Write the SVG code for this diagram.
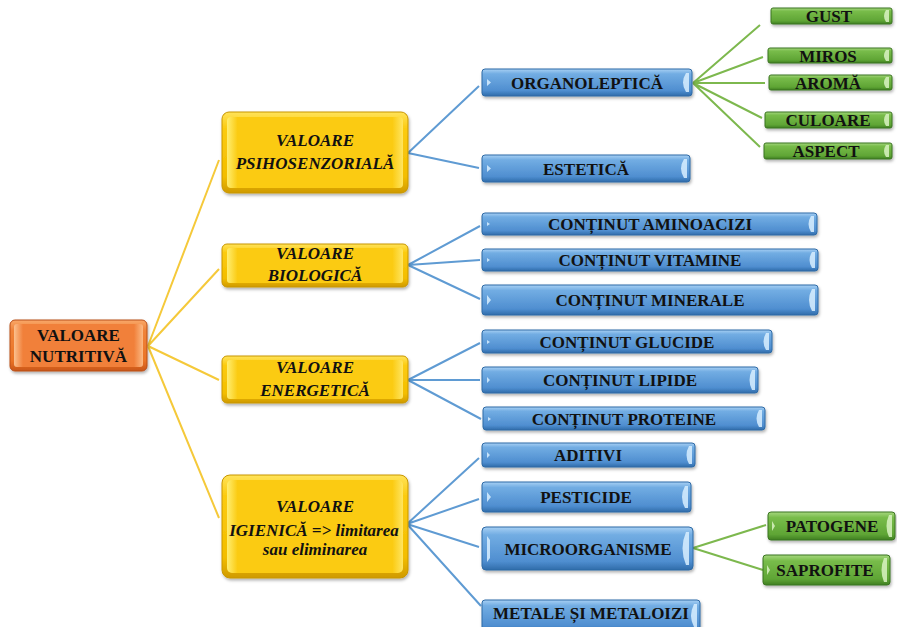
<svg xmlns="http://www.w3.org/2000/svg" width="897" height="627" viewBox="0 0 897 627">
<defs>
<linearGradient id="gBlue" x1="0" y1="0" x2="0" y2="1">
<stop offset="0" stop-color="#A8D0F4"/><stop offset="0.18" stop-color="#72ADE3"/><stop offset="0.8" stop-color="#4F8ED0"/><stop offset="1" stop-color="#2F6CAA"/>
</linearGradient>
<linearGradient id="gYel" x1="0" y1="0" x2="0" y2="1">
<stop offset="0" stop-color="#FFE35A"/><stop offset="0.2" stop-color="#FCCB10"/><stop offset="0.8" stop-color="#F3BD00"/><stop offset="1" stop-color="#CF9A00"/>
</linearGradient>
<linearGradient id="gYelIn" x1="0" y1="0" x2="1" y2="0">
<stop offset="0" stop-color="#FFEE70"/><stop offset="0.06" stop-color="#FBCB12"/><stop offset="0.94" stop-color="#FBCB12"/><stop offset="1" stop-color="#FFE560"/>
</linearGradient>
<linearGradient id="gOr" x1="0" y1="0" x2="0" y2="1">
<stop offset="0" stop-color="#F9A869"/><stop offset="0.2" stop-color="#F0833A"/><stop offset="0.8" stop-color="#EA7325"/><stop offset="1" stop-color="#C9561A"/>
</linearGradient>
<linearGradient id="gOrIn" x1="0" y1="0" x2="1" y2="0">
<stop offset="0" stop-color="#FBC08E"/><stop offset="0.07" stop-color="#F1803A"/><stop offset="0.93" stop-color="#F1803A"/><stop offset="1" stop-color="#FBB984"/>
</linearGradient>
<linearGradient id="gGr" x1="0" y1="0" x2="0" y2="1">
<stop offset="0" stop-color="#A6D77F"/><stop offset="0.2" stop-color="#78BC4A"/><stop offset="0.8" stop-color="#5FA535"/><stop offset="1" stop-color="#3F7F22"/>
</linearGradient>
<filter id="sh" x="-10%" y="-20%" width="120%" height="160%">
<feDropShadow dx="1" dy="2" stdDeviation="1.5" flood-color="#000" flood-opacity="0.3"/>
</filter>
<style>
.blue{fill:url(#gBlue);stroke:#2E6AA6;stroke-width:1;filter:url(#sh)}
.yel{fill:url(#gYel);stroke:#C89600;stroke-width:1;filter:url(#sh)}
.yin{fill:url(#gYelIn)}
.or{fill:url(#gOr);stroke:#B94E18;stroke-width:1;filter:url(#sh)}
.oin{fill:url(#gOrIn)}
.gr{fill:url(#gGr);stroke:#3A7420;stroke-width:1;filter:url(#sh)}
.hlb{fill:#D8EEFF;opacity:0.85}
.hlg{fill:#D9F2C2;opacity:0.85}
.t{font-family:"Liberation Serif","Times New Roman",serif;font-weight:bold;font-size:17px;fill:#111;text-anchor:middle}
.ti{font-style:italic}
.ly{stroke:#F5C93A;stroke-width:2;fill:none}
.lb{stroke:#5F9BD3;stroke-width:2;fill:none}
.lg{stroke:#7DB84E;stroke-width:2;fill:none}
</style>
</defs>

<g id="connectors">
<path class="ly" d="M148,346 L219,160 M148,346 L219,269 M148,346 L219,380 M148,346 L219,518"/>
<path class="lb" d="M408,153 L479,86 M408,153 L479,168"/>
<path class="lb" d="M408,265 L480,226 M408,265 L480,260 M408,265 L480,299"/>
<path class="lb" d="M408,380 L480,343 M408,380 L480,380 M408,380 L481,419"/>
<path class="lb" d="M407,524 L479,458 M407,524 L479,499 M407,524 L479,547 M407,524 L481,606"/>
<path class="lg" d="M693,83 L760,25 M693,83 L763,57 M693,83 L765,83 M693,83 L762,118 M693,83 L760,147"/>
<path class="lg" d="M693,548 L766,525 M693,548 L763,570"/>
</g>

<g id="n-root">
<rect class="or" x="10" y="320" width="137" height="51" rx="5"/>
<rect class="oin" x="14" y="324" width="129" height="43" rx="3"/>
<text class="t" x="78.5" y="341">VALOARE</text>
<text class="t" x="78.5" y="362">NUTRITIVĂ</text>
</g>

<g id="n-psiho">
<rect class="yel" x="222" y="112" width="186" height="81" rx="7"/>
<rect class="yin" x="227" y="117" width="176" height="71" rx="4"/>
<text class="t ti" x="315" y="146">VALOARE</text>
<text class="t ti" x="315" y="169">PSIHOSENZORIALĂ</text>
</g>

<g id="n-bio">
<rect class="yel" x="222" y="244" width="186" height="43" rx="5"/>
<rect class="yin" x="227" y="248" width="176" height="35" rx="3"/>
<text class="t ti" x="315" y="259">VALOARE</text>
<text class="t ti" x="315" y="281">BIOLOGICĂ</text>
</g>

<g id="n-energ">
<rect class="yel" x="222" y="356" width="186" height="47" rx="5"/>
<rect class="yin" x="227" y="360" width="176" height="39" rx="3"/>
<text class="t ti" x="315" y="373">VALOARE</text>
<text class="t ti" x="315" y="396">ENERGETICĂ</text>
</g>

<g id="n-igien">
<rect class="yel" x="222" y="475" width="186" height="103" rx="8"/>
<rect class="yin" x="227" y="480" width="176" height="93" rx="5"/>
<text class="t ti" x="315" y="512">VALOARE</text>
<text class="t ti" x="314" y="536">IGIENICĂ =&gt; limitarea</text>
<text class="t ti" x="315" y="555">sau eliminarea</text>
</g>

<g id="n-organoleptica">
<rect class="blue" x="482" y="69" width="210" height="27" rx="3"/>
<path class="hlb" d="M487,79 l4,3.5 l-4,3.5 z M686,73 q-6,9.5 0,19 l3,0 l0,-19 z"/>
<text class="t" x="587" y="88.5">ORGANOLEPTICĂ</text>
</g>
<g id="n-estetica">
<rect class="blue" x="482" y="155" width="208" height="27" rx="3"/>
<path class="hlb" d="M487,165 l4,3.5 l-4,3.5 z M684,159 q-6,9.5 0,19 l3,0 l0,-19 z"/>
<text class="t" x="586" y="174.5">ESTETICĂ</text>
</g>
<g id="n-aminoacizi">
<rect class="blue" x="482" y="213" width="335" height="22" rx="3"/>
<path class="hlb" d="M487,222 l3,2 l-3,2 z M811,216 q-5,8 0,16 l3,0 l0,-16 z"/>
<text class="t" x="650" y="230">CONȚINUT AMINOACIZI</text>
</g>
<g id="n-vitamine">
<rect class="blue" x="482" y="249" width="336" height="22" rx="3"/>
<path class="hlb" d="M487,258 l3,2 l-3,2 z M812,252 q-5,8 0,16 l3,0 l0,-16 z"/>
<text class="t" x="650" y="266">CONȚINUT VITAMINE</text>
</g>
<g id="n-minerale">
<rect class="blue" x="482" y="285" width="336" height="30" rx="3"/>
<path class="hlb" d="M487,295 l4,5 l-4,5 z M812,289 q-6,11 0,22 l3,0 l0,-22 z"/>
<text class="t" x="650" y="306">CONȚINUT MINERALE</text>
</g>
<g id="n-glucide">
<rect class="blue" x="482" y="330" width="290" height="23" rx="3"/>
<path class="hlb" d="M487,340 l3,2 l-3,2 z M766,333 q-5,8.5 0,17 l3,0 l0,-17 z"/>
<text class="t" x="627" y="347.5">CONȚINUT GLUCIDE</text>
</g>
<g id="n-lipide">
<rect class="blue" x="482" y="367" width="276" height="26" rx="3"/>
<path class="hlb" d="M487,377 l3,3 l-3,3 z M752,370 q-5,10 0,20 l3,0 l0,-20 z"/>
<text class="t" x="620" y="386">CONȚINUT LIPIDE</text>
</g>
<g id="n-proteine">
<rect class="blue" x="483" y="407" width="282" height="23" rx="3"/>
<path class="hlb" d="M488,417 l3,2 l-3,2 z M759,410 q-5,8.5 0,17 l3,0 l0,-17 z"/>
<text class="t" x="624" y="424.5">CONȚINUT PROTEINE</text>
</g>
<g id="n-aditivi">
<rect class="blue" x="482" y="443" width="213" height="24" rx="3"/>
<path class="hlb" d="M487,452 l3,3 l-3,3 z M689,446 q-5,9 0,18 l3,0 l0,-18 z"/>
<text class="t" x="588" y="461">ADITIVI</text>
</g>
<g id="n-pesticide">
<rect class="blue" x="482" y="482" width="209" height="30" rx="3"/>
<path class="hlb" d="M487,492 l4,5 l-4,5 z M685,486 q-6,11 0,22 l3,0 l0,-22 z"/>
<text class="t" x="586" y="503">PESTICIDE</text>
</g>
<g id="n-micro">
<rect class="blue" x="482" y="527" width="211" height="43" rx="4"/>
<path class="hlb" d="M487,536 l3,4 l0,18 l-3,4 z M686,532 q-7,16 0,33 l3,0 l0,-33 z"/>
<text class="t" x="588" y="554.5">MICROORGANISME</text>
</g>
<g id="n-metale">
<rect class="blue" x="482" y="600" width="218" height="32" rx="3"/>
<path class="hlb" d="M694,604 q-6,12 0,23 l3,0 l0,-23 z"/>
<text class="t" x="591" y="619">METALE ȘI METALOIZI</text>
</g>

<g id="n-gust">
<rect class="gr" x="771" y="8" width="121" height="16" rx="2"/>
<path class="hlg" d="M886,10 q-4,6 0,12 l3,0 l0,-12 z"/>
<text class="t" x="829" y="21.5">GUST</text>
</g>
<g id="n-miros">
<rect class="gr" x="768" y="48" width="124" height="15" rx="2"/>
<path class="hlg" d="M886,50 q-4,5.5 0,11 l3,0 l0,-11 z"/>
<text class="t" x="828" y="61.5">MIROS</text>
</g>
<g id="n-aroma">
<rect class="gr" x="769" y="75" width="123" height="15" rx="2"/>
<path class="hlg" d="M886,77 q-4,5.5 0,11 l3,0 l0,-11 z"/>
<text class="t" x="828" y="88.5">AROMĂ</text>
</g>
<g id="n-culoare">
<rect class="gr" x="765" y="112" width="127" height="16" rx="2"/>
<path class="hlg" d="M886,114 q-4,6 0,12 l3,0 l0,-12 z"/>
<text class="t" x="828" y="126">CULOARE</text>
</g>
<g id="n-aspect">
<rect class="gr" x="764" y="143" width="128" height="16" rx="2"/>
<path class="hlg" d="M886,145 q-4,6 0,12 l3,0 l0,-12 z"/>
<text class="t" x="826" y="157">ASPECT</text>
</g>
<g id="n-patogene">
<rect class="gr" x="768" y="512" width="127" height="28" rx="3"/>
<path class="hlg" d="M772,521 l3,5 l-3,5 z M889,515 q-5,11 0,22 l3,0 l0,-22 z"/>
<text class="t" x="832" y="532">PATOGENE</text>
</g>
<g id="n-saprofite">
<rect class="gr" x="763" y="555" width="127" height="30" rx="3"/>
<path class="hlg" d="M767,565 l3,5 l-3,5 z M884,558 q-5,12 0,24 l3,0 l0,-24 z"/>
<text class="t" x="825" y="576">SAPROFITE</text>
</g>
</svg>
